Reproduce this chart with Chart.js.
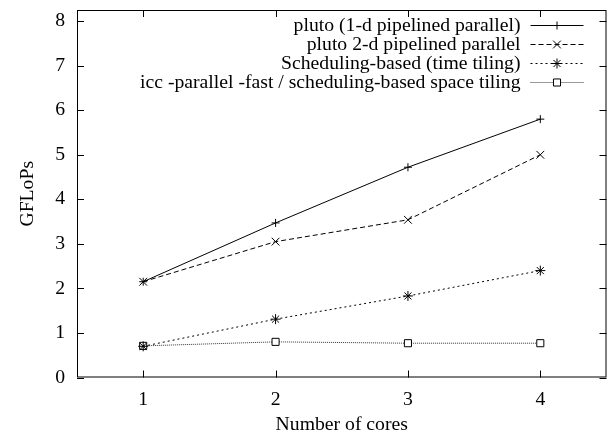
<!DOCTYPE html>
<html>
<head>
<meta charset="utf-8">
<script src="https://cdn.jsdelivr.net/npm/chart.js@4/dist/chart.umd.min.js"></script>
<style>
  body { margin: 0; background: #fff; }
  #wrap { width: 613px; height: 440px; }
</style>
</head>
<body>
<div id="wrap"><canvas id="myChart" width="613" height="440"></canvas></div>
<script>
// cores on the x axis, GFLoPs per variant
var cores = [1, 2, 3, 4];
var yTicks = [0, 1, 2, 3, 4, 5, 6, 7, 8];
var pluto1d = [2.15, 3.47, 4.72, 5.8];
var pluto2d = [2.15, 3.05, 3.54, 5.0];
var timeTiling = [0.7, 1.31, 1.83, 2.4];
var spaceTiling = [0.71, 0.8, 0.77, 0.77];

var labels = [
    'pluto (1-d pipelined parallel)',
    'pluto 2-d pipelined parallel',
    'Scheduling-based (time tiling)',
    'icc -parallel -fast / scheduling-based space tiling'
];

function pairs(vals) {
    return cores.map(function (c, i) { return { x: c, y: vals[i] }; });
}

Chart.defaults.font.family = '"Liberation Serif", "Times New Roman", serif';
Chart.defaults.font.size = 19.7;
Chart.defaults.color = '#000';

// gnuplot-style frame with inward ticks on all four sides
var framePlugin = {
    id: 'frame',
    afterDraw: function (chart) {
        var ctx = chart.ctx, a = chart.chartArea;
        var xs = chart.scales.x, ys = chart.scales.y;
        var len = 7;
        ctx.save();
        ctx.strokeStyle = '#000';
        ctx.lineWidth = 1;
        ctx.strokeRect(a.left + 0.5, a.top + 0.5, a.right - a.left - 1, a.bottom - a.top - 1);
        ctx.beginPath();
        xs.ticks.forEach(function (t) {
            var px = Math.round(xs.getPixelForValue(t.value)) + 0.5;
            ctx.moveTo(px, a.bottom); ctx.lineTo(px, a.bottom - len);
            ctx.moveTo(px, a.top); ctx.lineTo(px, a.top + len);
        });
        ys.ticks.forEach(function (t) {
            var py = Math.round(ys.getPixelForValue(t.value)) + 0.5;
            ctx.moveTo(a.left, py); ctx.lineTo(a.left + len, py);
            ctx.moveTo(a.right, py); ctx.lineTo(a.right - len, py);
        });
        ctx.stroke();
        ctx.restore();
    }
};

// key in the top right corner: text on the left, sample on the right
var keyPlugin = {
    id: 'key',
    afterDraw: function (chart, args, opts) {
        var ctx = chart.ctx, a = chart.chartArea;
        var textRight = a.right - opts.textInset;
        var lineL = a.right - opts.lineStart, lineR = a.right - opts.lineEnd;
        ctx.save();
        ctx.font = Chart.defaults.font.size + 'px ' + Chart.defaults.font.family;
        ctx.textAlign = 'right';
        ctx.textBaseline = 'middle';
        chart.data.datasets.forEach(function (ds, i) {
            var y = a.top + opts.firstRow + i * opts.rowGap;
            ctx.fillStyle = '#000';
            ctx.fillText(ds.label, textRight, y + 1);
            ctx.strokeStyle = ds.borderColor;
            ctx.lineWidth = ds.borderWidth;
            ctx.setLineDash(ds.borderDash || []);
            ctx.beginPath();
            ctx.moveTo(lineL, y + 0.5);
            ctx.lineTo(lineR, y + 0.5);
            ctx.stroke();
            ctx.setLineDash([]);
            ctx.strokeStyle = ds.pointBorderColor;
            ctx.fillStyle = ds.pointBackgroundColor;
            ctx.lineWidth = 1;
            Chart.helpers.drawPoint(ctx, {
                pointStyle: ds.pointStyle, radius: ds.pointRadius, rotation: 0, borderWidth: 1
            }, (lineL + lineR) / 2, y + 0.5);
        });
        ctx.restore();
    }
};

function series(label, vals, dash, style, radius, color) {
    return {
        label: label,
        data: pairs(vals),
        borderColor: color,
        borderWidth: 1,
        borderDash: dash,
        pointStyle: style,
        pointRadius: radius,
        pointBorderColor: '#000',
        pointBackgroundColor: '#fff',
        pointBorderWidth: 1,
        fill: false,
        tension: 0
    };
}

var ctx = document.getElementById('myChart').getContext('2d');
var myChart = new Chart(ctx, {
    type: 'line',
    data: {
        datasets: [
            series(labels[0], pluto1d, [], 'cross', 4, '#000'),
            series(labels[1], pluto2d, [5, 3], 'crossRot', 5.5, '#000'),
            series(labels[2], timeTiling, [2, 3], 'star', 5, '#000'),
            series(labels[3], spaceTiling, [1, 1], 'rect', 5, '#333')
        ]
    },
    options: {
        responsive: false,
        animation: false,
        layout: { padding: { top: 10, right: 4, left: 0, bottom: 0 } },
        plugins: {
            legend: { display: false },
            tooltip: { enabled: false },
            key: { textInset: 86, lineStart: 76, lineEnd: 23, firstRow: 15, rowGap: 19 }
        },
        scales: {
            x: {
                type: 'linear',
                min: 0.5,
                max: 4.5,
                afterBuildTicks: function (s) { s.ticks = cores.map(function (v) { return { value: v }; }); },
                afterFit: function (s) { s.height = 62.5; s.paddingLeft = 0; s.paddingRight = 0; },
                grid: { display: false, drawTicks: false },
                border: { display: false },
                ticks: { padding: 11 },
                title: { display: true, text: 'Number of cores', padding: { top: 0, bottom: 3 } }
            },
            y: {
                min: 0,
                max: 8.25,
                afterBuildTicks: function (s) { s.ticks = yTicks.map(function (v) { return { value: v }; }); },
                afterFit: function (s) { s.width = 77; s.paddingTop = 0; s.paddingBottom = 0; },
                grid: { display: false, drawTicks: false },
                border: { display: false },
                ticks: { padding: 12 },
                title: { display: true, text: 'GFLoPs', padding: { top: 16, bottom: 0 } }
            }
        }
    },
    plugins: [framePlugin, keyPlugin]
});
</script>
</body>
</html>
